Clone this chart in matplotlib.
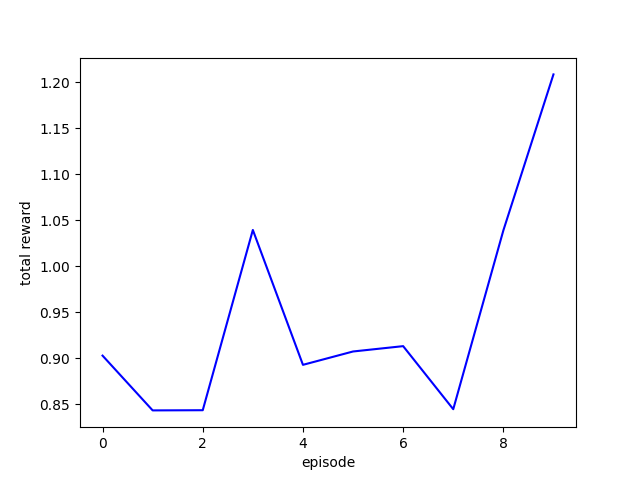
import matplotlib
matplotlib.use("Agg")
import matplotlib.pyplot as plt

episodes = [0, 1, 2, 3, 4, 5, 6, 7, 8, 9]
rewards = [0.903, 0.8435, 0.8437, 1.0395, 0.893, 0.9075, 0.9133, 0.8448, 1.039, 1.2085]

fig, ax = plt.subplots(figsize=(6.4, 4.8), dpi=100)
ax.plot(episodes, rewards, color="blue")
ax.set_xlabel("episode")
ax.set_ylabel("total reward")
fig.savefig("out.png")
